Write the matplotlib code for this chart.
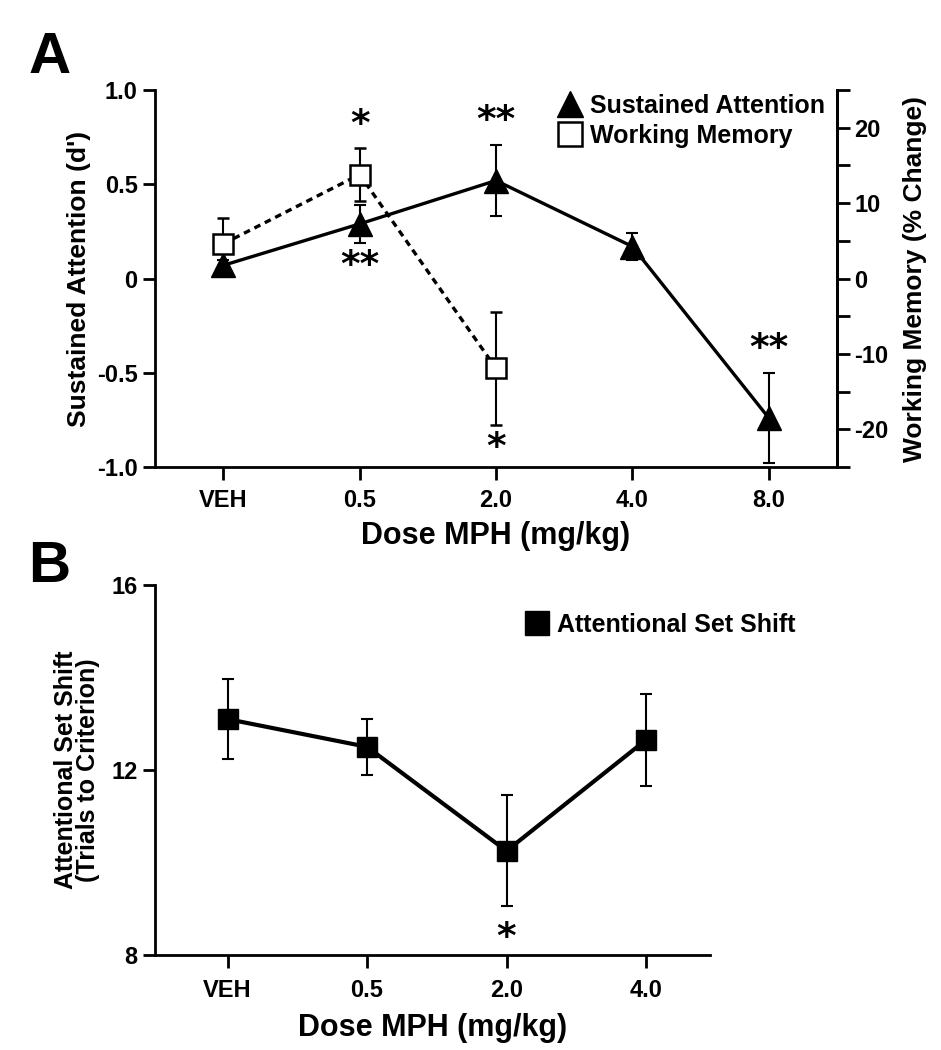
import matplotlib
matplotlib.use("Agg")
import matplotlib.pyplot as plt
from matplotlib.lines import Line2D
from matplotlib.ticker import MultipleLocator

plt.rcParams['font.family'] = ['Liberation Sans Narrow', 'Liberation Sans', 'DejaVu Sans']
plt.rcParams['font.weight'] = 'bold'
plt.rcParams['axes.unicode_minus'] = False

# panel A data
doses_a = ['VEH', '0.5', '2.0', '4.0', '8.0']
sa_mean = [0.07, 0.29, 0.52, 0.17, -0.74]
sa_err = [0.03, 0.10, 0.19, 0.07, 0.24]
wm_doses = ['VEH', '0.5', '2.0']
wm_mean = [4.6, 13.8, -11.9]
wm_err = [3.4, 3.5, 7.5]

# panel B data
doses_b = ['VEH', '0.5', '2.0', '4.0']
ass_mean = [13.1, 12.5, 10.25, 12.65]
ass_err = [0.87, 0.60, 1.20, 1.00]

# significance marks: (series, index, side, text)
marks_a = [('wm', 1, 'above', '*'), ('sa', 1, 'below', '**'),
           ('sa', 2, 'above', '**'), ('wm', 2, 'below', '*'),
           ('sa', 4, 'above', '**')]
marks_b = [(2, 'below', '*')]

LW = 2.4
STAR_FONT = ['DejaVu Sans']
fig = plt.figure(figsize=(9.41, 10.5), dpi=100)


def style_axis(ax):
    ax.spines['top'].set_visible(False)
    for s in ['left', 'bottom', 'right']:
        ax.spines[s].set_linewidth(2)
    ax.tick_params(axis='both', direction='out', width=2, length=9,
                   labelsize=17)


# ---- panel A ----
axA = fig.add_axes([0.1647, 0.5552, 0.7248, 0.359])
xa = list(range(len(doses_a)))
axA.errorbar(xa, sa_mean, yerr=sa_err, color='black', lw=LW, marker='^',
             markersize=17, capsize=4, elinewidth=1.5, capthick=1.5,
             zorder=3)
axA.set_xlim(-0.5, 4.5)
axA.set_ylim(-1.0, 1.0)
axA.set_yticks([-1.0, -0.5, 0, 0.5, 1.0])
axA.set_yticklabels(['-1.0', '-0.5', '0', '0.5', '1.0'])
axA.set_xticks(xa)
axA.set_xticklabels(doses_a)
axA.set_ylabel("Sustained Attention (d')", fontsize=19, fontweight='bold',
               labelpad=4)
axA.set_xlabel('Dose MPH (mg/kg)', fontsize=22, fontweight='bold', labelpad=6)
style_axis(axA)
axA.tick_params(axis='x', pad=7)

axA2 = axA.twinx()
xw = [doses_a.index(d) for d in wm_doses]
axA2.errorbar(xw, wm_mean, yerr=wm_err, color='black', lw=LW, ls=(0, (2, 1.5)),
              marker='s', markersize=15, markerfacecolor='white',
              markeredgecolor='black', markeredgewidth=1.8, capsize=4,
              elinewidth=1.5, capthick=1.5, zorder=2)
axA2.set_ylim(-25, 25)
axA2.yaxis.set_major_locator(MultipleLocator(10))
axA2.yaxis.set_minor_locator(MultipleLocator(5))
axA2.set_yticks([-20, -10, 0, 10, 20])
axA2.set_ylabel('Working Memory (% Change)', fontsize=19, fontweight='bold',
                labelpad=10)
style_axis(axA2)
axA2.spines['left'].set_visible(False)
axA2.spines['bottom'].set_visible(False)
axA2.tick_params(axis='y', which='minor', direction='out', width=2, length=9)

for series, i, side, txt in marks_a:
    if series == 'sa':
        ax, m, e, x, off = axA, sa_mean, sa_err, xa[i], 0.03
    else:
        ax, m, e, x, off = axA2, wm_mean, wm_err, xw[i], 0.7
    if side == 'above':
        y, va = m[i] + e[i] + off, 'bottom'
    else:
        y, va = m[i] - e[i] - off, 'top'
    ax.text(x, y, txt, ha='center', va=va, fontsize=27, fontweight='bold',
            family=STAR_FONT)

handles_a = [
    Line2D([], [], ls='none', marker='^', color='black', markersize=19),
    Line2D([], [], ls='none', marker='s', markerfacecolor='white',
           markeredgecolor='black', markeredgewidth=1.8, markersize=17),
]
axA2.legend(handles_a, ['Sustained Attention', 'Working Memory'],
            loc='upper right', bbox_to_anchor=(1.015, 1.05),
            frameon=False, fontsize=18, handlelength=0.8,
            handletextpad=0.4, labelspacing=0.25)

fig.text(0.03, 0.945, 'A', fontsize=42, fontweight='bold', va='center')

# ---- panel B ----
axB = fig.add_axes([0.1647, 0.0905, 0.59, 0.3524])
xb = list(range(len(doses_b)))
axB.errorbar(xb, ass_mean, yerr=ass_err, color='black', lw=LW + 0.6, marker='s',
             markersize=15, capsize=4, elinewidth=1.5, capthick=1.5)
axB.set_xlim(-0.52, 3.46)
axB.set_ylim(8, 16)
axB.set_yticks([8, 12, 16])
axB.set_xticks(xb)
axB.set_xticklabels(doses_b)
axB.set_ylabel('Attentional Set Shift\n(Trials to Criterion)', fontsize=18,
               fontweight='bold', labelpad=8, linespacing=0.9)
axB.set_xlabel('Dose MPH (mg/kg)', fontsize=22, fontweight='bold', labelpad=8)
style_axis(axB)
axB.spines['right'].set_visible(False)
axB.tick_params(axis='x', pad=8)

for i, side, txt in marks_b:
    y = ass_mean[i] - ass_err[i] - 0.3
    axB.text(xb[i], y, txt, ha='center', va='top', fontsize=27,
             fontweight='bold', family=STAR_FONT)

handles_b = [Line2D([], [], ls='none', marker='s', color='black', markersize=17)]
axB.legend(handles_b, ['Attentional Set Shift'], loc='upper left',
           bbox_to_anchor=(0.63, 0.985), frameon=False, fontsize=18,
           handlelength=0.8, handletextpad=0.4)

fig.text(0.03, 0.46, 'B', fontsize=42, fontweight='bold', va='center')

fig.savefig('out.png', dpi=100)
